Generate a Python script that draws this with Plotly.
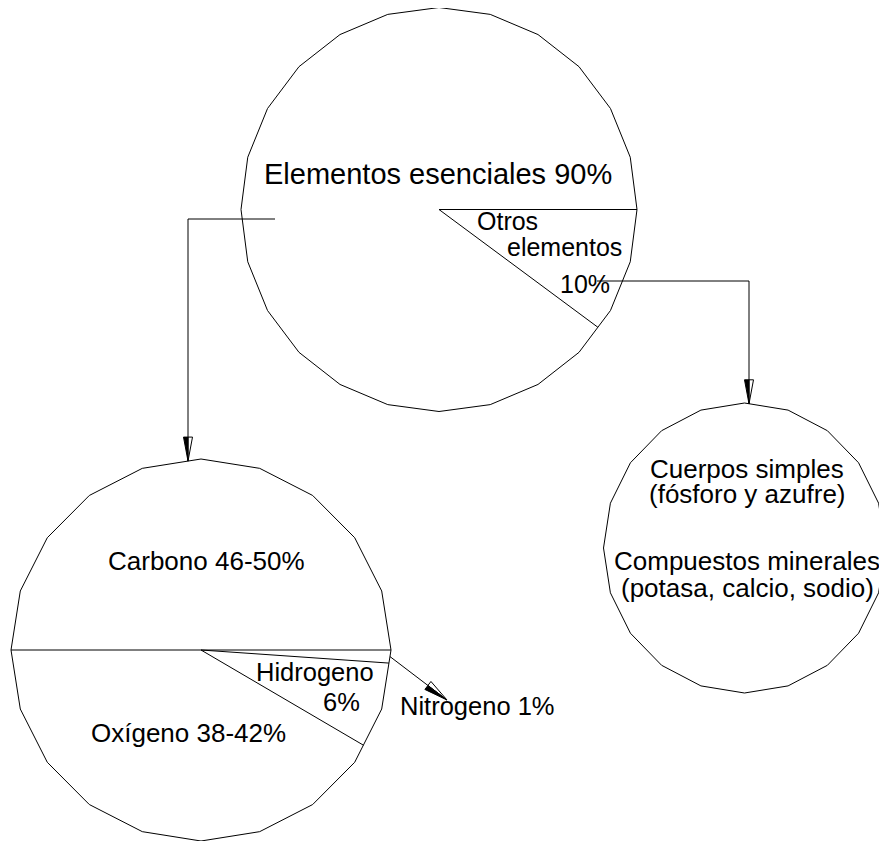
import numpy as np
import plotly.graph_objects as go

# ---------------- data ----------------
top_labels = ["Elementos esenciales 90%", "Otros elementos 10%"]
top_shares = [90, 10]                       # percent of the upper disc

bottom_labels = ["Nitrogeno 1%", "Hidrogeno 6%", "Oxígeno 38-42%", "Carbono 46-50%"]
bottom_shares = [1.1, 7.3, 41.6, 50.0]      # slice shares as drawn, clockwise from the right

right_lines = ["Cuerpos simples", "(fósforo y azufre)",
               "Compuestos minerales", "(potasa, calcio, sodio)"]

# ---------------- layout geometry ----------------
W, H = 887, 841
OFF = 8  # page body margin: figure starts 8px in, so axis ranges start at 8
TOP = dict(cx=439, cy=209.5, rx=198, ry=202, n=24)
BOT = dict(cx=201, cy=650, rx=190, ry=191, n=20)
RGT = dict(cx=744.5, cy=548, rx=141, ry=145, n=20)
FONT = "Liberation Sans, Arial, sans-serif"

traces = []
annotations = []


def line(xs, ys, width=1):
    traces.append(go.Scatter(x=xs, y=ys, mode="lines",
                             line=dict(color="black", width=width),
                             hoverinfo="skip", showlegend=False))


def polygon(g):
    ang = np.linspace(0, 2 * np.pi, g["n"] + 1)
    line(list(g["cx"] + g["rx"] * np.cos(ang)), list(g["cy"] + g["ry"] * np.sin(ang)))


def edge_point(g, deg):
    step = 360.0 / g["n"]
    k = np.floor(deg / step)
    mid = np.radians((k + 0.5) * step)
    th = np.radians(deg)
    t = np.cos(np.radians(step / 2)) / np.cos(th - mid)
    return g["cx"] + t * g["rx"] * np.cos(th), g["cy"] + t * g["ry"] * np.sin(th)


def arrowhead(tip, tail, L=24, w=4.5):
    tx, ty = tip
    d = np.array([tx - tail[0], ty - tail[1]], float)
    d /= np.hypot(*d)
    p = np.array([-d[1], d[0]])
    b = np.array([tx, ty]) - L * d
    left = b + w * p
    right = b - w * p
    traces.append(go.Scatter(x=[tx, left[0], b[0], tx], y=[ty, left[1], b[1], ty],
                             mode="lines", fill="toself", fillcolor="black",
                             line=dict(color="black", width=1),
                             hoverinfo="skip", showlegend=False))
    line([tx, right[0], b[0]], [ty, right[1], b[1]])


def text(x, base, s, size, anchor="center"):
    annotations.append(dict(x=x, y=base - 0.36 * size, text=s, showarrow=False,
                            xanchor=anchor, yanchor="middle",
                            font=dict(family=FONT, size=size, color="black")))


# ---------------- upper disc ----------------
polygon(TOP)
a0 = 0.0
a1 = 360.0 * top_shares[1] / 100.0
for a in (a0, a1):
    ex, ey = edge_point(TOP, a)
    line([TOP["cx"], ex], [TOP["cy"], ey])

text(437.5, 184, "Elementos esenciales 90%", 29)
text(475, 230, "Otros", 25, "left")
text(505, 256, "elementos", 25, "left")
text(558, 293, "10%", 25, "left")

# ---------------- lower disc ----------------
polygon(BOT)
cum = np.cumsum([0] + bottom_shares) * 3.6
for a in (0.0, cum[1], cum[2], 180.0):
    ex, ey = edge_point(BOT, a)
    line([BOT["cx"], ex], [BOT["cy"], ey])

text(206, 570, "Carbono 46-50%", 26)
text(188, 742, "Oxígeno 38-42%", 26)
text(314.5, 681, "Hidrogeno", 25.5)
text(341.5, 711, "6%", 25.5)
text(477.5, 715, "Nitrogeno 1%", 25.5)

# Nitrogeno pointer
sx, sy = edge_point(BOT, (cum[0] + cum[1]) / 2)
tip = (447, 700)
line([sx, tip[0]], [sy, tip[1]])
arrowhead(tip, (sx, sy), L=24, w=5)

# ---------------- right disc ----------------
polygon(RGT)
for s, base in zip(right_lines, [478, 503, 570, 597]):
    text(747, base, s, 26)

# ---------------- connectors ----------------
# upper disc -> lower disc
bx, by = edge_point(BOT, 266.0)
line([275, 188, 188], [219, 219, by])
arrowhead((188, by), (188, 219))
# "10%" -> right disc
rx_, ry_ = edge_point(RGT, 272.0)
line([597, 749, 749], [281, 281, ry_])
arrowhead((749, ry_), (749, 281))

fig = go.Figure(traces)
fig.update_layout(
    width=W - OFF, height=H - OFF,
    margin=dict(l=0, r=0, t=0, b=0),
    paper_bgcolor="white", plot_bgcolor="white",
    xaxis=dict(range=[OFF, W], visible=False, fixedrange=True),
    yaxis=dict(range=[H, OFF], visible=False, fixedrange=True),
    annotations=annotations,
    showlegend=False,
)
fig.write_html("out.html")
